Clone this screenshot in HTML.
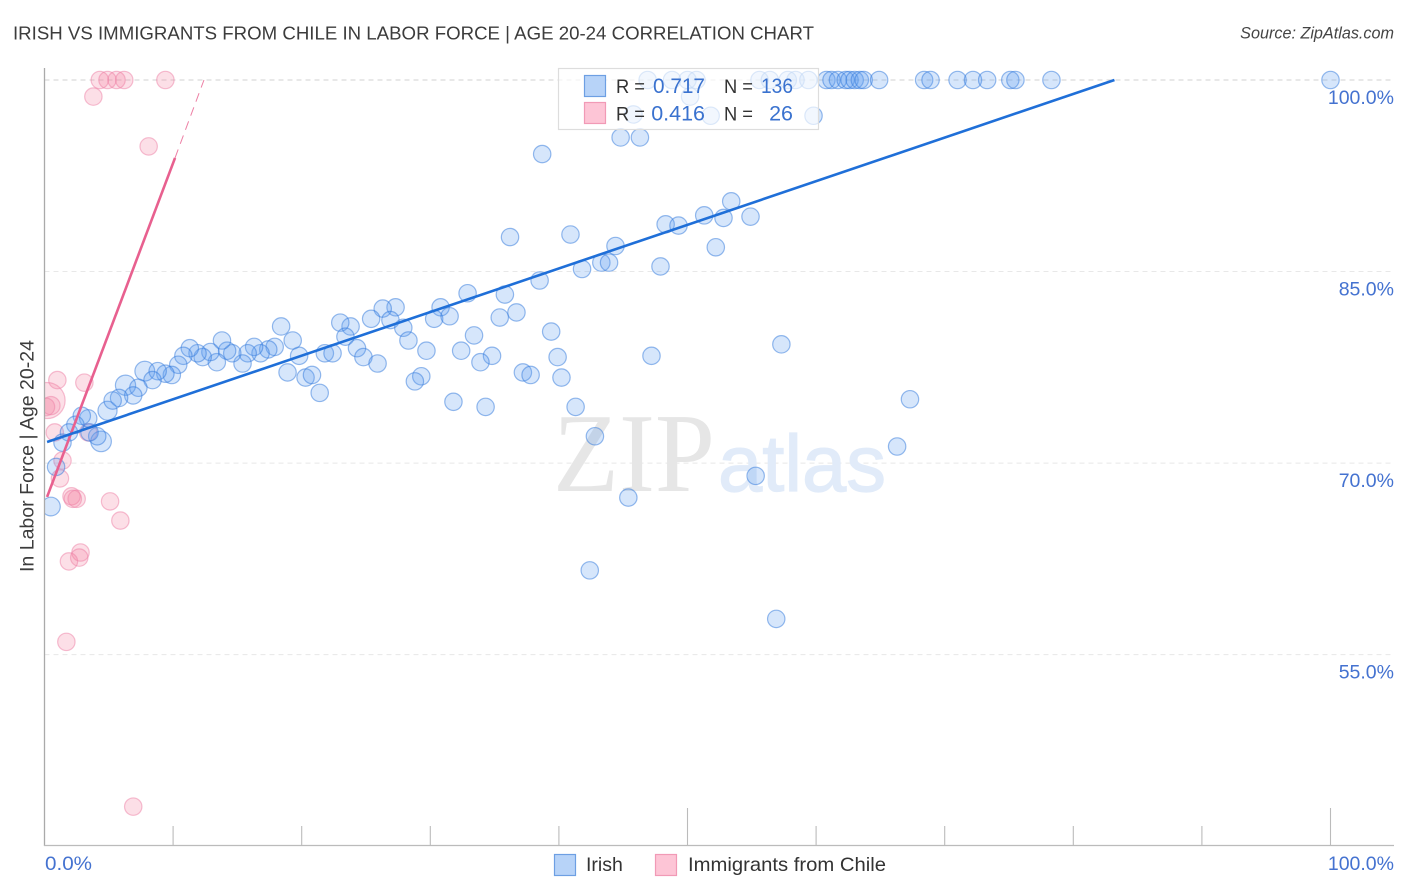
<!DOCTYPE html>
<html lang="en">
<head>
<meta charset="utf-8">
<title>Irish vs Immigrants from Chile in Labor Force | Age 20-24 Correlation Chart</title>
<style>
html,body{margin:0;padding:0;background:#fff;}
svg{display:block;font-family:"Liberation Sans",sans-serif;}
</style>
</head>
<body>
<svg id="chart" xmlns="http://www.w3.org/2000/svg" width="1406" height="892" viewBox="0 0 1406 892">
  <defs><clipPath id="plot-clip"><rect x="44.5" y="0" width="1350" height="846"/></clipPath></defs>
  <text x="13" y="39.5" font-size="18.5" fill="#3c3c3c" textLength="801" lengthAdjust="spacingAndGlyphs">IRISH VS IMMIGRANTS FROM CHILE IN LABOR FORCE | AGE 20-24 CORRELATION CHART</text>
  <text x="1394" y="38.5" font-size="16.2" font-style="italic" fill="#444" text-anchor="end">Source: ZipAtlas.com</text>
  <g id="grid"></g>
  <g>
    <text x="553" y="491" font-family="'Liberation Serif',serif" font-size="112" fill="#e6e6e6" textLength="162" lengthAdjust="spacingAndGlyphs">ZIP</text>
    <text x="718" y="491" font-size="80" fill="#e1ebf9" stroke="#e1ebf9" stroke-width="1.2" textLength="168" lengthAdjust="spacingAndGlyphs">atlas</text>
  </g>
  <g id="points" clip-path="url(#plot-clip)"></g>
  <g id="trends"></g>
  <g id="axes">
    <line x1="44.5" y1="68" x2="44.5" y2="846" stroke="#aaa" stroke-width="1.3"/>
    <line x1="44" y1="845.5" x2="1394" y2="845.5" stroke="#bbb" stroke-width="1.3"/>
  </g>
  <text transform="translate(33.5,572) rotate(-90)" font-size="19" fill="#3c3c3c" textLength="232" lengthAdjust="spacingAndGlyphs">In Labor Force | Age 20-24</text>
  <text x="45" y="870" font-size="19.5" fill="#4472d0" textLength="47" lengthAdjust="spacingAndGlyphs">0.0%</text>
  <text x="1394" y="870" font-size="19.5" fill="#4472d0" text-anchor="end">100.0%</text>

  <g>
    <rect x="558.5" y="68.5" width="260" height="61" fill="#fff" fill-opacity="0.68" stroke="#ddd" stroke-width="1.2"/>
    <rect x="584.5" y="75.5" width="21" height="21" fill="#b7d3f8" stroke="#6d9fe3" stroke-width="1.2"/>
    <rect x="584.5" y="102.5" width="21" height="21" fill="#fdc5d6" stroke="#f19ab6" stroke-width="1.2"/>
    <text x="616" y="93" font-size="19.5" fill="#333" textLength="29" lengthAdjust="spacingAndGlyphs">R =</text>
    <text x="653" y="93" font-size="21.5" fill="#3a72cf" textLength="52" lengthAdjust="spacingAndGlyphs">0.717</text>
    <text x="724" y="93" font-size="19.5" fill="#333" textLength="29" lengthAdjust="spacingAndGlyphs">N =</text>
    <text x="761" y="93" font-size="21.5" fill="#3a72cf" textLength="32" lengthAdjust="spacingAndGlyphs">136</text>
    <text x="616" y="120.5" font-size="19.5" fill="#333" textLength="29" lengthAdjust="spacingAndGlyphs">R =</text>
    <text x="705" y="120.5" font-size="21.5" fill="#3a72cf" text-anchor="end">0.416</text>
    <text x="724" y="120.5" font-size="19.5" fill="#333" textLength="29" lengthAdjust="spacingAndGlyphs">N =</text>
    <text x="793" y="120.5" font-size="21.5" fill="#3a72cf" text-anchor="end">26</text>
  </g>

  <g>
    <rect x="554.5" y="854.5" width="21" height="21" fill="#b7d3f8" stroke="#6d9fe3" stroke-width="1.2"/>
    <text x="586" y="871" font-size="19.5" fill="#333">Irish</text>
    <rect x="655.5" y="854.5" width="21" height="21" fill="#fdc5d6" stroke="#f19ab6" stroke-width="1.2"/>
    <text x="688" y="871" font-size="19.5" fill="#333" textLength="198" lengthAdjust="spacingAndGlyphs">Immigrants from Chile</text>
  </g>
</svg>
<script>
const yTickValues = [100, 85, 70, 55];
const yTickLabels = ['100.0%', '85.0%', '70.0%', '55.0%'];
const xTickValues = [10, 20, 30, 40, 50, 60, 70, 80, 90, 100];
const xLongTicks = [50, 100];

const irishX = [4.4, 6.3, 7.8, 4.9, 0.5,
  46.9,48.8,50.0,50.7,55.6,56.4,57.8,58.4,59.4,60.8,61.2,61.7,62.3,62.6,63.0,63.4,63.7,64.9,68.4,68.9,71.0,72.2,73.3,75.1,75.5,78.3,100,
  45.8,51.8,59.8,44.8,46.3,50.2,38.7,36.2,40.9,48.3,49.3,51.3,52.8,53.4,54.9,52.2,44.4,
  32.9,30.8,27.3,26.3,25.4,26.9,27.9,28.3,23.8,23.0,23.4,24.3,24.8,25.9,29.7,32.4,33.4,30.3,31.5,35.8,38.5,41.8,43.3,43.9,47.9,35.4,36.7,39.4,39.9,34.8,33.9,29.3,28.8,37.2,37.8,40.2,47.2,31.8,34.3,41.3,42.8,
  55.3,66.3,67.3,57.3,45.4,42.4,56.9,
  18.4,19.3,19.8,21.8,22.4,18.9,20.3,20.8,21.4,17.9,17.4,16.8,16.3,15.8,15.4,14.6,14.2,13.8,13.4,12.9,12.3,11.9,11.3,10.8,10.4,9.9,9.4,8.8,8.4,7.3,6.9,5.8,5.3,4.1,3.5,3.4,2.9,2.4,1.9,1.4,0.9];
const irishY = [71.7, 76.1, 77.2, 74.1, 66.6,
  100,100,100,100,100,100,100,100,100,100,100,100,100,100,100,100,100,100,100,100,100,100,100,100,100,100,100,
  97.3,97.2,97.2,95.5,95.5,98.7,94.2,87.7,87.9,88.7,88.6,89.4,89.2,90.5,89.3,86.9,87.0,
  83.3,82.2,82.2,82.1,81.3,81.2,80.6,79.6,80.7,81.0,79.9,79.0,78.3,77.8,78.8,78.8,80.0,81.3,81.5,83.2,84.3,85.2,85.7,85.7,85.4,81.4,81.8,80.3,78.3,78.4,77.9,76.8,76.4,77.1,76.9,76.7,78.4,74.8,74.4,74.4,72.1,
  69.0,71.3,75.0,79.3,67.3,61.6,57.8,
  80.7,79.6,78.4,78.6,78.6,77.1,76.7,76.9,75.5,79.1,78.9,78.6,79.1,78.6,77.8,78.6,78.8,79.6,77.9,78.7,78.3,78.6,79.0,78.4,77.7,76.9,77.0,77.2,76.5,75.9,75.3,75.1,74.9,72.1,72.4,73.5,73.7,73.0,72.4,71.6,69.7];
const irishWeight = [1.4, 1.35, 1.3, 1.2, 1.15];

const chileX = [0.2, 0.5, 0.1, 4.3, 4.9, 5.6, 6.2, 9.4, 3.8, 8.1, 1.0, 3.1, 0.8, 3.4, 1.4, 1.2, 2.1, 2.2, 2.5, 5.1, 5.9, 2.8, 2.7, 1.9, 1.7, 6.9];
const chileY = [74.9, 74.5, 74.4, 100, 100, 100, 100, 100, 98.7, 94.8, 76.5, 76.3, 72.4, 72.4, 70.2, 68.8, 67.4, 67.2, 67.2, 67.0, 65.5, 63.0, 62.6, 62.3, 56.0, 43.1];
const chileWeight = [4.3, 1.1, 1.05];

const irishTrendX = [0.2, 83.2];
const irishTrendY = [71.65, 100];
const chileTrendX = [0.2, 10.15];
const chileTrendY = [67.35, 93.9];
const chileTrendExtX = [10.15, 12.4];
const chileTrendExtY = [93.9, 100];

const NS = 'http://www.w3.org/2000/svg';
const xScale = v => 44.5 + v * 12.86;
const yScale = v => 80 + (100 - v) * 12.77;
const radius = w => 8.7 * Math.sqrt(w);

function make(tag, attrs, parent) {
  const el = document.createElementNS(NS, tag);
  for (const k in attrs) el.setAttribute(k, attrs[k]);
  parent.appendChild(el);
  return el;
}

const grid = document.getElementById('grid');
yTickValues.forEach((v, i) => {
  const line = make('line', {x1: 44.5, x2: 1394, y1: yScale(v), y2: yScale(v),
    stroke: i === 0 ? '#d2d2d2' : '#e8e8e8', 'stroke-width': 1, 'stroke-dasharray': '5 4'}, grid);
  
  
  const label = make('text', {x: 1394, y: yScale(v) + 24, 'font-size': 19.5, fill: '#4472d0', 'text-anchor': 'end'}, grid);
  label.textContent = yTickLabels[i];
  
  
});

const axes = document.getElementById('axes');
xTickValues.forEach(v => {
  const top = xLongTicks.includes(v) ? 808 : 826;
  const tick = make('line', {x1: xScale(v), x2: xScale(v), y1: top, y2: 846, stroke: '#bbb', 'stroke-width': 1.1}, axes);
  
  
});

const points = document.getElementById('points');
function drawSeries(xs, ys, weights, fill, stroke, name) {
  xs.forEach((x, i) => {
    const w = i < weights.length ? weights[i] : 1;
    const c = make('circle', {cx: xScale(x), cy: yScale(ys[i]), r: radius(w),
      fill: fill, 'fill-opacity': 0.25, stroke: stroke, 'stroke-opacity': 0.5, 'stroke-width': 1.2}, points);
    
    
  });
}
drawSeries(chileX, chileY, chileWeight, '#f4809f', '#ee7fa5', 'chile-point');
drawSeries(irishX, irishY, irishWeight, '#5a9bf0', '#2f78dc', 'irish-point');

const trends = document.getElementById('trends');
const chileExt = make('line', {x1: xScale(chileTrendExtX[0]), y1: yScale(chileTrendExtY[0]), x2: xScale(chileTrendExtX[1]), y2: yScale(chileTrendExtY[1]),
  stroke: '#e8608f', 'stroke-width': 1, 'stroke-opacity': 0.8, 'stroke-dasharray': '9 6'}, trends);


const chileLine = make('line', {x1: xScale(chileTrendX[0]), y1: yScale(chileTrendY[0]), x2: xScale(chileTrendX[1]), y2: yScale(chileTrendY[1]),
  stroke: '#e8608f', 'stroke-width': 2.6}, trends);


const irishLine = make('line', {x1: xScale(irishTrendX[0]), y1: yScale(irishTrendY[0]), x2: xScale(irishTrendX[1]), y2: yScale(irishTrendY[1]),
  stroke: '#1f6fd8', 'stroke-width': 2.6}, trends);


</script>
</body>
</html>
